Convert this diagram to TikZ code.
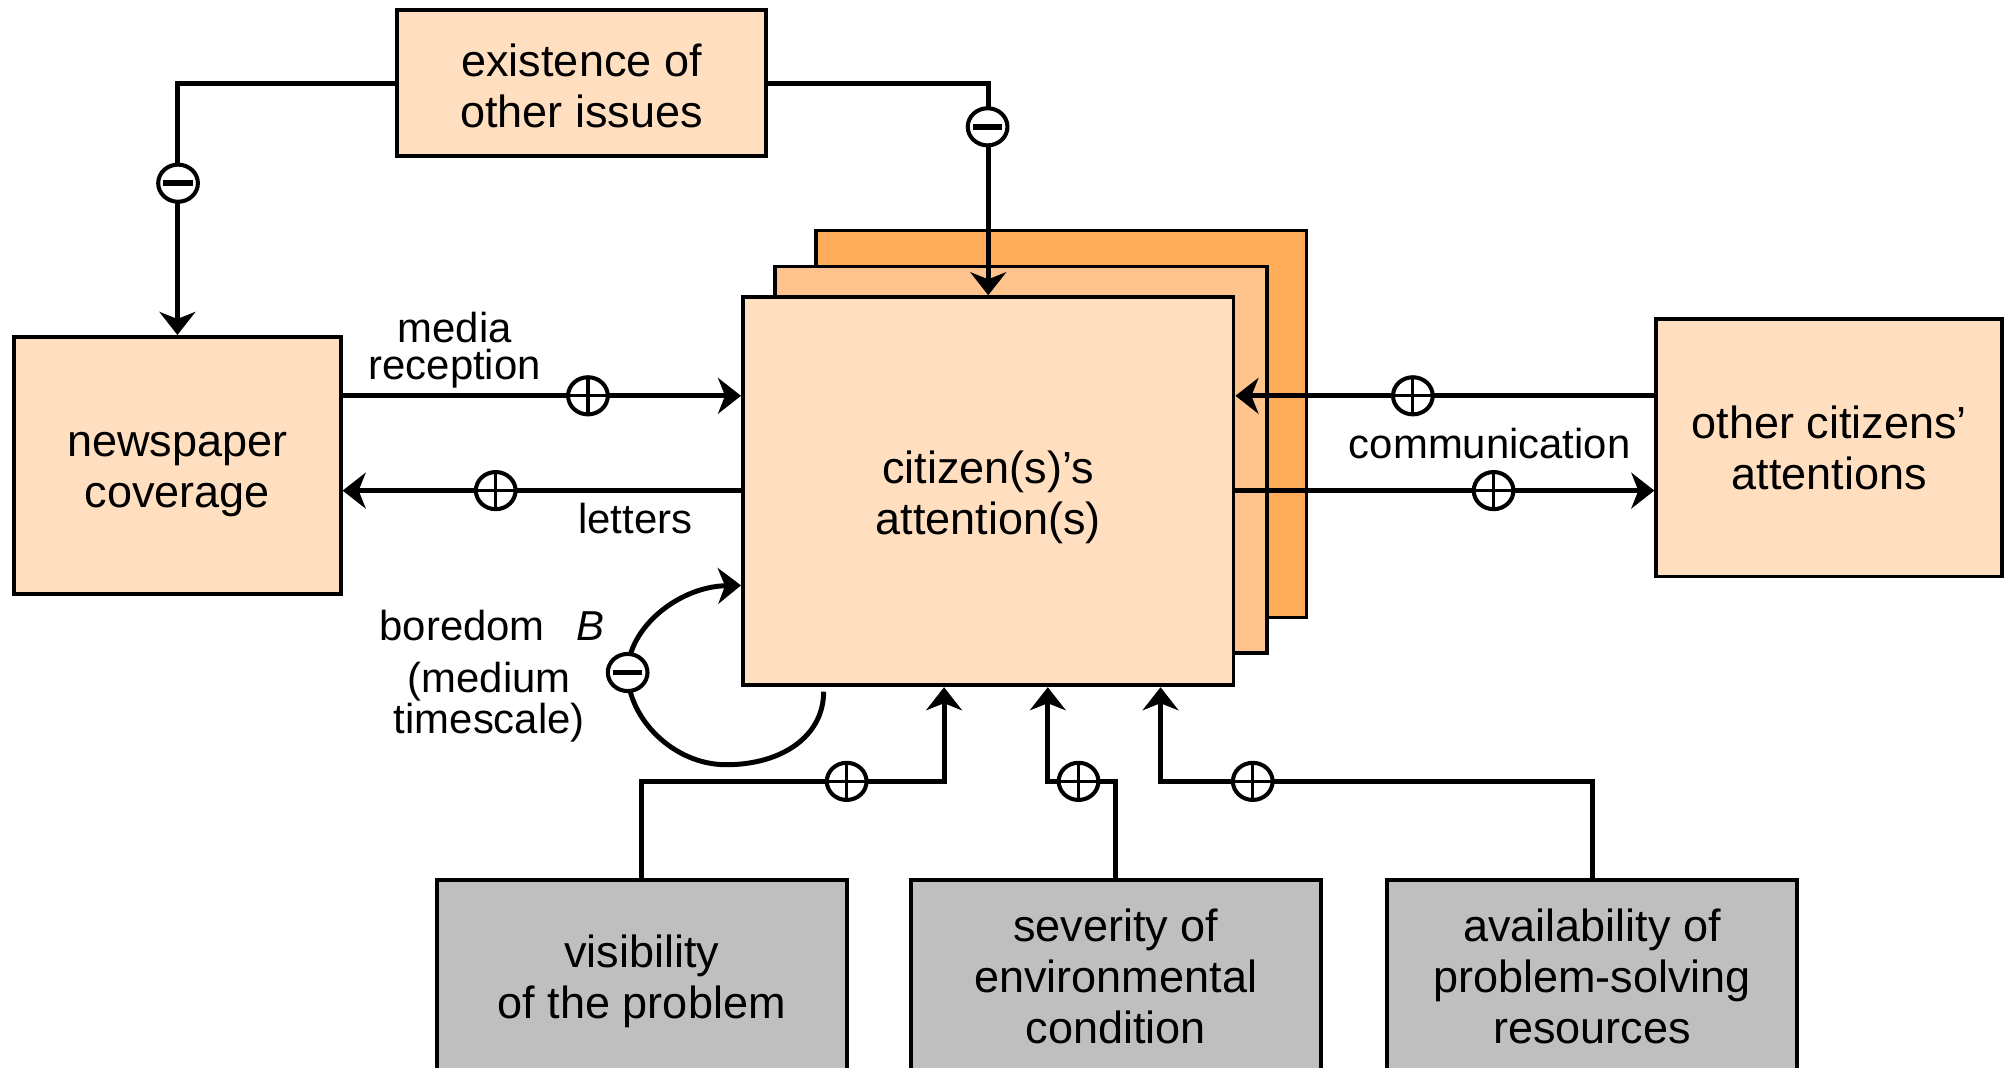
\documentclass[tikz,border=0pt]{standalone}
\usepackage{fontspec}
\setmainfont{Liberation Sans}
\usetikzlibrary{arrows.meta,shapes.geometric}
\definecolor{peach}{RGB}{255,223,191}
\definecolor{peachmid}{RGB}{255,196,142}
\definecolor{peachdark}{RGB}{255,173,90}
\definecolor{boxgray}{RGB}{191,191,191}
\begin{document}
\begin{tikzpicture}[x=0.1mm,y=-0.1mm,
  box/.style={draw,line width=0.85pt,fill=peach,inner sep=0pt},
  graybox/.style={box,fill=boxgray},
  boxtext/.style={inner sep=0pt,align=center,font=\fontsize{10}{11.3}\selectfont},
  conn/.style={line width=1.1pt},
  arr/.style={conn,-{Stealth[length=1.8mm,width=2.8mm,inset=0.55mm]}},
  sign/.style={ellipse,draw,line width=0.9pt,fill=white,minimum width=3.1mm,
    minimum height=2.9mm,inner sep=0pt},
  minussign/.style={sign,path picture={\draw[line width=1.3pt]
    ([xshift=0.4mm]path picture bounding box.west) --
    ([xshift=-0.4mm]path picture bounding box.east);}},
  plussign/.style={sign,path picture={\draw[line width=0.7pt]
    (path picture bounding box.west) -- (path picture bounding box.east)
    (path picture bounding box.north) -- (path picture bounding box.south);}},
  lbl/.style={font=\fontsize{9.3}{9.3}\selectfont,inner sep=0pt,anchor=base}]
\useasboundingbox (0,0) rectangle (1568.4,833);

% boxes
\node[box,minimum width=28.8mm,minimum height=11.4mm] (exist) at (454,65) {};
\node[box,minimum width=25.5mm,minimum height=20.1mm] (news) at (138.5,363.5) {};
\node[box,fill=peachdark,minimum width=38.3mm,minimum height=30.2mm] (back3) at (828.5,331) {};
\node[box,fill=peachmid,minimum width=38.4mm,minimum height=30.2mm] (back2) at (797,359) {};
\node[box,minimum width=38.3mm,minimum height=30.3mm] (cit) at (771.5,383.5) {};
\node[box,minimum width=27.0mm,minimum height=20.1mm] (other) at (1428,349.5) {};
\node[graybox,minimum width=32.0mm,minimum height=15.2mm] (vis) at (501,763) {};
\node[graybox,minimum width=32.0mm,minimum height=15.2mm] (sev) at (871,763) {};
\node[graybox,minimum width=32.0mm,minimum height=15.2mm] (avail) at (1243,763) {};

% box texts
\node[boxtext] (existT) at ([yshift=-0.2mm]exist.center) {existence of\\other issues};
\node[boxtext] (newsT) at ([yshift=-0.7mm]news.center) {newspaper\\coverage};
\node[boxtext] (citT) at ([yshift=-0.5mm]cit.center) {citizen(s)’s\\attention(s)};
\node[boxtext] (otherT) at ([yshift=-0.05mm]other.center) {other citizens’\\attentions};
\node[boxtext] (visT) at ([yshift=-0.3mm]vis.center) {visibility\\of the problem};
\node[boxtext] (sevT) at ([yshift=0.05mm]sev.center) {severity of\\environmental\\condition};
\node[boxtext] (availT) at ([yshift=0.05mm]avail.center) {availability of\\problem-solving\\resources};

% helper coordinates
\coordinate (ra) at (0,309);
\coordinate (rb) at (0,383);
\coordinate (va) at (737,610);
\coordinate (sa) at (818,610);
\coordinate (aa) at (906,610);
\coordinate (bs) at (643,540);
\coordinate (be) at (0,457);

% connectors
\draw[arr] (exist.west) -| (news.north);
\draw[arr] (exist.east) -| (cit.north);
\draw[arr] (news.east |- ra) -- (cit.west |- ra);
\draw[arr] (cit.west |- rb) -- (news.east |- rb);
\draw[arr] (other.west |- ra) -- (cit.east |- ra);
\draw[arr] (cit.east |- rb) -- (other.west |- rb);
\draw[arr] (vis.north) |- (va) -- (va |- cit.south);
\draw[arr] (sev.north) |- (sa) -- (sa |- cit.south);
\draw[arr] (avail.north) |- (aa) -- (aa |- cit.south);
\draw[arr] (bs) .. controls (643,575) and (610,597) .. (567,597)
  .. controls (525,597) and (490,560) .. (490,525)
  .. controls (490,490) and (530,458) .. (cit.west |- be);

% signs
\node[minussign] (s1) at (139,143) {};
\node[minussign] (s2) at (771,99) {};
\node[minussign] (s3) at (490,525) {};
\node[plussign] (p1) at (459,309) {};
\node[plussign] (p2) at (387,383) {};
\node[plussign] (p3) at (1103,309) {};
\node[plussign] (p4) at (1166,383) {};
\node[plussign] (p5) at (661,610) {};
\node[plussign] (p6) at (842,610) {};
\node[plussign] (p7) at (978,610) {};

% labels
\node[lbl] (lmedia) at (355,267) {media};
\node[lbl] (lrecep) at (355,296.5) {reception};
\node[lbl] (llett) at (496,416.5) {letters};
\node[lbl] (lcomm) at (1163,358) {communication};
\node[lbl] (lbore) at (384,500) {boredom\hspace{0.75em}\textit{B}};
\node[lbl] (lmed) at (382,541) {(medium};
\node[lbl] (ltime) at (382,573) {timescale)};
\end{tikzpicture}
\end{document}
